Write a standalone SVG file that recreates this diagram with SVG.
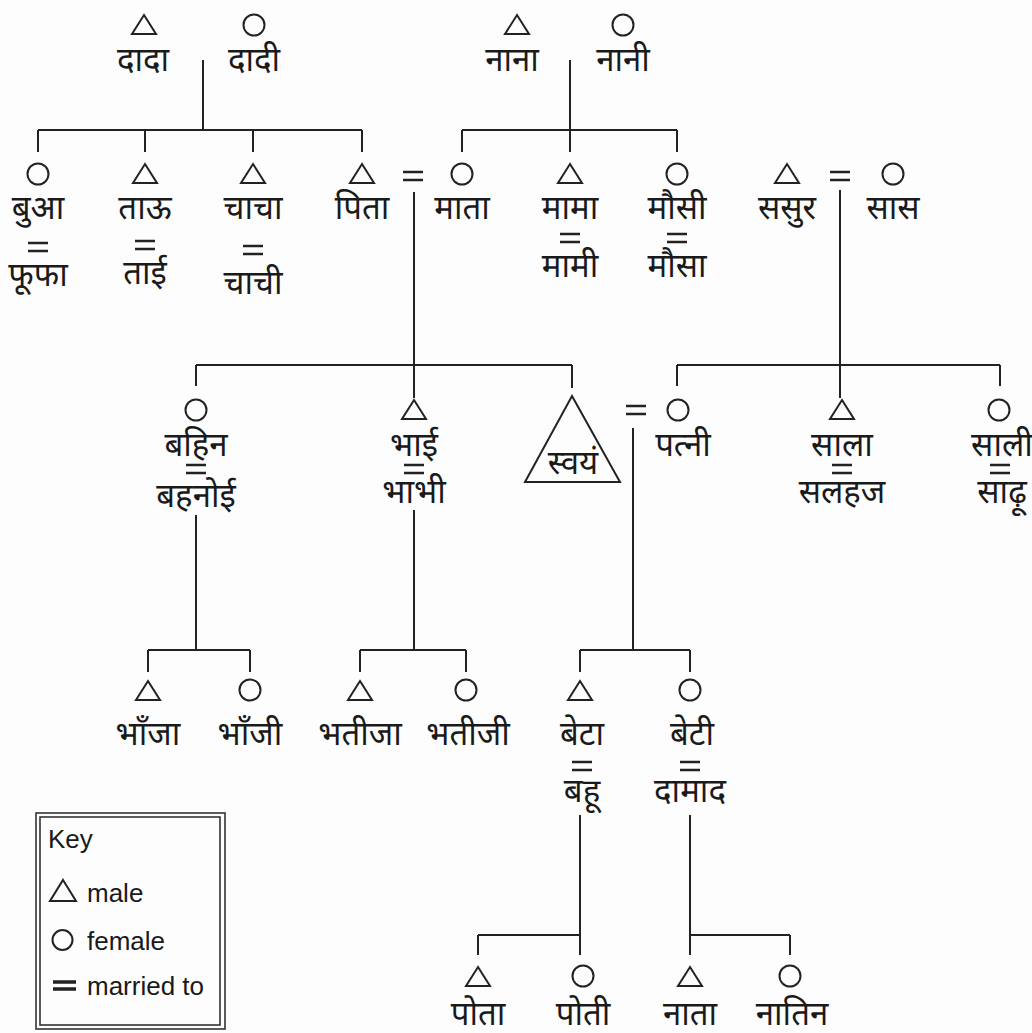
<svg xmlns="http://www.w3.org/2000/svg" xmlns:xlink="http://www.w3.org/1999/xlink" width="1032" height="1033" viewBox="0 0 1032 1033">
<style>
.s{fill:none;stroke:#222;stroke-width:2}
.e{fill:none;stroke:#222;stroke-width:2.6}
.t{font-family:"Noto Sans","Noto Sans Devanagari","Lohit Devanagari",sans-serif;font-size:33px;fill:#1a1a1a;text-anchor:middle}
.k{font-family:"Liberation Sans",Arial,sans-serif;font-size:26px;fill:#1a1a1a}
</style>
<defs>
<path id="tri" class="s" d="M0,-10 L12,9 L-12,9 Z"/>
<circle id="cir" class="s" cx="0" cy="0" r="10.5"/>
<path id="eq" class="e" d="M-10,-4 H10 M-10,4 H10"/>
</defs>
<rect width="1032" height="1033" fill="#fdfdfd"/>

<g id="connectors" class="s">
<path d="M203,60 V130 M38,130 H362 M38,130 V152 M145,130 V152 M253,130 V152 M362,130 V152"/>
<path d="M570,60 V152 M462,130 H677 M462,130 V152 M677,130 V152"/>
<path d="M414,192 V398 M196,365 H572 M196,365 V386 M572,365 V388"/>
<path d="M840,190 V398 M677,365 H1000 M677,365 V386 M1000,365 V386"/>
<path d="M196,515 V650 M148,650 H250 M148,650 V672 M250,650 V672"/>
<path d="M414,510 V650 M360,650 H466 M360,650 V672 M466,650 V672"/>
<path d="M633,428 V650 M580,650 H690 M580,650 V672 M690,650 V672"/>
<path d="M580,815 V955 M478,935 H580 M478,935 V955"/>
<path d="M690,815 V955 M690,935 H790 M790,935 V955"/>
</g>

<g id="dada"><use href="#tri" x="144" y="25"/><text class="t" x="143" y="71">दादा</text></g>
<g id="dadi"><use href="#cir" x="254" y="25"/><text class="t" x="254" y="71">दादी</text></g>
<g id="nana"><use href="#tri" x="517" y="25"/><text class="t" x="512" y="71">नाना</text></g>
<g id="nani"><use href="#cir" x="623" y="25"/><text class="t" x="623" y="71">नानी</text></g>

<g id="bua"><use href="#cir" x="38" y="174"/><text class="t" x="38" y="219">बुआ</text><use href="#eq" x="38" y="247"/><text class="t" x="38" y="286">फूफा</text></g>
<g id="tau"><use href="#tri" x="145" y="174"/><text class="t" x="145" y="219">ताऊ</text><use href="#eq" x="145" y="245"/><text class="t" x="145" y="284">ताई</text></g>
<g id="chacha"><use href="#tri" x="253" y="174"/><text class="t" x="253" y="219">चाचा</text><use href="#eq" x="253" y="250"/><text class="t" x="253" y="294">चाची</text></g>
<g id="pita"><use href="#tri" x="362" y="174"/><text class="t" x="362" y="219">पिता</text></g>
<g id="eq-pita-mata"><use href="#eq" x="413" y="176"/></g>
<g id="mata"><use href="#cir" x="462" y="174"/><text class="t" x="462" y="219">माता</text></g>
<g id="mama"><use href="#tri" x="570" y="174"/><text class="t" x="570" y="219">मामा</text><use href="#eq" x="570" y="238"/><text class="t" x="570" y="277">मामी</text></g>
<g id="mausi"><use href="#cir" x="677" y="174"/><text class="t" x="677" y="219">मौसी</text><use href="#eq" x="677" y="238"/><text class="t" x="677" y="277">मौसा</text></g>
<g id="sasur"><use href="#tri" x="787" y="174"/><text class="t" x="787" y="219">ससुर</text></g>
<g id="eq-sasur-saas"><use href="#eq" x="840" y="176"/></g>
<g id="saas"><use href="#cir" x="893" y="174"/><text class="t" x="893" y="219">सास</text></g>

<g id="bahin"><use href="#cir" x="196" y="410"/><text class="t" x="196" y="456">बहिन</text><use href="#eq" x="196" y="469"/><text class="t" x="196" y="507">बहनोई</text></g>
<g id="bhai"><use href="#tri" x="414" y="410"/><text class="t" x="414" y="456">भाई</text><use href="#eq" x="414" y="469"/><text class="t" x="414" y="503">भाभी</text></g>
<g id="svayam"><path class="s" d="M572,396 L620,482 L525,482 Z"/><text class="t" x="573" y="474">स्वयं</text></g>
<g id="eq-svayam-patni"><use href="#eq" x="636" y="410"/></g>
<g id="patni"><use href="#cir" x="678" y="410"/><text class="t" x="683" y="456">पत्नी</text></g>
<g id="saala"><use href="#tri" x="842" y="410"/><text class="t" x="842" y="456">साला</text><use href="#eq" x="842" y="469"/><text class="t" x="842" y="503">सलहज</text></g>
<g id="saali"><use href="#cir" x="999" y="410"/><text class="t" x="1002" y="456">साली</text><use href="#eq" x="1000" y="469"/><text class="t" x="1002" y="503">साढ़ू</text></g>

<g id="bhanja"><use href="#tri" x="148" y="691"/><text class="t" x="148" y="745">भाँजा</text></g>
<g id="bhanji"><use href="#cir" x="250" y="690"/><text class="t" x="250" y="745">भाँजी</text></g>
<g id="bhatija"><use href="#tri" x="360" y="691"/><text class="t" x="360" y="745">भतीजा</text></g>
<g id="bhatiji"><use href="#cir" x="466" y="690"/><text class="t" x="468" y="745">भतीजी</text></g>
<g id="beta"><use href="#tri" x="580" y="691"/><text class="t" x="582" y="745">बेटा</text><use href="#eq" x="582" y="766"/><text class="t" x="582" y="802">बहू</text></g>
<g id="beti"><use href="#cir" x="690" y="690"/><text class="t" x="692" y="745">बेटी</text><use href="#eq" x="690" y="766"/><text class="t" x="690" y="802">दामाद</text></g>

<g id="pota"><use href="#tri" x="478" y="977"/><text class="t" x="478" y="1025">पोता</text></g>
<g id="poti"><use href="#cir" x="583" y="976"/><text class="t" x="583" y="1025">पोती</text></g>
<g id="naata"><use href="#tri" x="690" y="977"/><text class="t" x="690" y="1025">नाता</text></g>
<g id="naatin"><use href="#cir" x="790" y="976"/><text class="t" x="792" y="1025">नातिन</text></g>

<g id="key">
<rect x="36" y="813" width="189" height="216" fill="none" stroke="#333" stroke-width="1.6"/>
<rect x="40" y="817" width="180" height="208" fill="none" stroke="#333" stroke-width="1.6"/>
<text class="k" x="48" y="848">Key</text>
<path class="s" d="M63,880 L76,901 L50,901 Z"/>
<text class="k" x="87" y="902">male</text>
<circle class="s" cx="62.5" cy="940" r="10"/>
<text class="k" x="87" y="950">female</text>
<path class="e" style="stroke-width:3.4" d="M53,982 H76 M53,989 H76"/>
<text class="k" x="87" y="995">married to</text>
</g>
</svg>
